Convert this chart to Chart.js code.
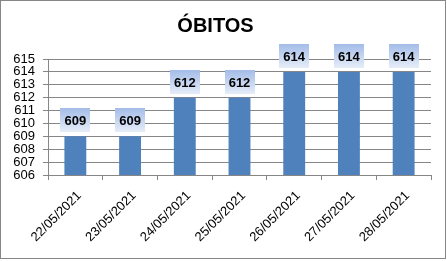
<!DOCTYPE html>
<html>
<head>
<meta charset="utf-8">
<script src="https://cdn.jsdelivr.net/npm/chart.js@4"></script>
<style>
  html, body { margin: 0; padding: 0; background: #fff; }
  #wrap { width: 447px; height: 261px; }
</style>
</head>
<body>
<div id="wrap"><canvas id="chart" width="447" height="261"></canvas></div>
<script>
const labels = ['22/05/2021', '23/05/2021', '24/05/2021', '25/05/2021', '26/05/2021', '27/05/2021', '28/05/2021'];
const obitos = [609, 609, 612, 612, 614, 614, 614];
const yMin = 606;
const yMax = 615;

const gridColor = '#868686';
const barColor = '#4f81bd';

// white background + outer frame
const framePlugin = {
  id: 'frame',
  beforeDraw(chart) {
    const c = chart.ctx;
    c.save();
    c.fillStyle = '#fff';
    c.fillRect(0, 0, chart.width, chart.height);
    c.restore();
  },
  afterDraw(chart) {
    const c = chart.ctx;
    c.save();
    c.strokeStyle = gridColor;
    c.lineWidth = 1;
    c.strokeRect(0.5, 0.5, 445, 258);
    c.restore();
  }
};

// value boxes with a light blue gradient, like the Excel data labels
const valueLabels = {
  id: 'valueLabels',
  afterDatasetsDraw(chart) {
    const c = chart.ctx;
    const meta = chart.getDatasetMeta(0);
    c.save();
    c.font = 'bold 13px "Liberation Sans", Arial, sans-serif';
    c.textAlign = 'center';
    c.textBaseline = 'middle';
    meta.data.forEach((bar, i) => {
      const w = 30, h = 24;
      const x = Math.round(bar.x - w / 2);
      const y = Math.round(bar.y - 4 - h);
      const g = c.createLinearGradient(0, y, 0, y + h);
      g.addColorStop(0, '#a3bce8');
      g.addColorStop(1, '#e6edf8');
      c.fillStyle = g;
      c.fillRect(x, y, w, h);
      c.fillStyle = '#000';
      c.fillText(String(obitos[i]), bar.x, y + h / 2 + 1);
    });
    c.restore();
  }
};

new Chart(document.getElementById('chart'), {
  type: 'bar',
  data: {
    labels,
    datasets: [{
      label: 'ÓBITOS',
      data: obitos,
      backgroundColor: barColor,
      borderWidth: 0,
      categoryPercentage: 1,
      barPercentage: 0.4
    }]
  },
  options: {
    responsive: false,
    animation: false,
    layout: { padding: { top: 0, right: 16, bottom: 0, left: 0 } },
    plugins: {
      legend: { display: false },
      tooltip: { enabled: false },
      title: {
        display: true,
        text: 'ÓBITOS',
        color: '#000',
        font: { family: '"Liberation Sans", Arial, sans-serif', size: 20, weight: 'bold' },
        padding: { top: 14, bottom: 21 }
      }
    },
    scales: {
      x: {
        grid: {
          display: true,
          drawOnChartArea: false,
          drawTicks: true,
          tickLength: 5,
          color: gridColor,
          offset: true
        },
        border: { color: gridColor },
        ticks: {
          color: '#000',
          font: { family: '"Liberation Sans", Arial, sans-serif', size: 13 },
          minRotation: 45,
          maxRotation: 45,
          padding: 8,
          labelOffset: 4
        },
        afterFit(scale) { scale.height = 86; }
      },
      y: {
        min: yMin,
        max: yMax,
        grid: { color: gridColor, tickLength: 5 },
        border: { color: gridColor },
        ticks: {
          stepSize: 1,
          autoSkip: false,
          color: '#000',
          font: { family: '"Liberation Sans", Arial, sans-serif', size: 13 },
          padding: 8
        },
        afterFit(scale) { scale.width = 48; }
      }
    }
  },
  plugins: [framePlugin, valueLabels]
});
</script>
</body>
</html>
